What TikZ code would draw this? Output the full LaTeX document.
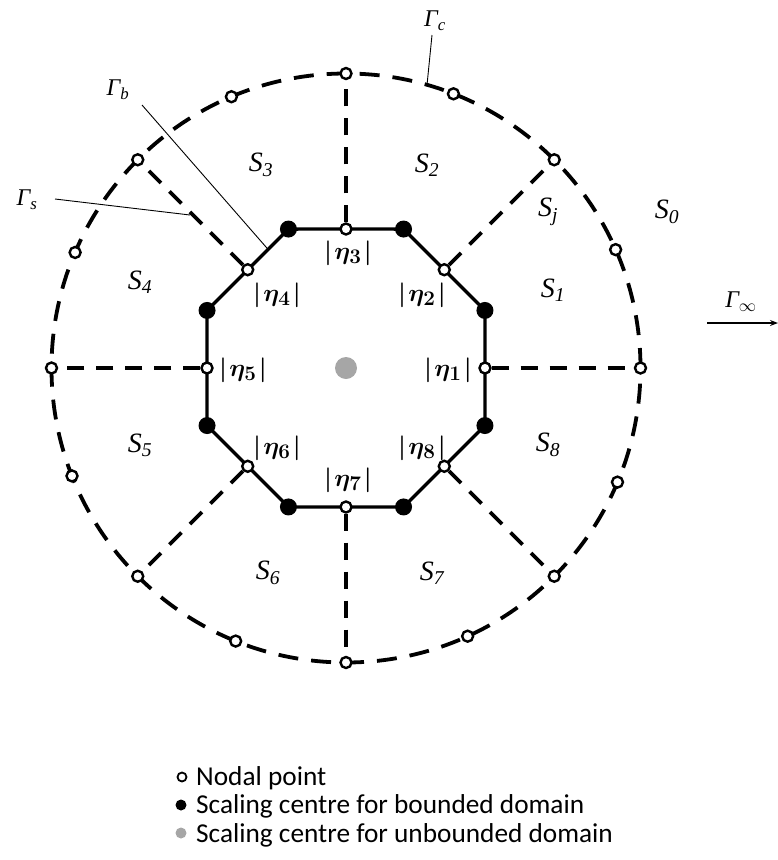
\documentclass[tikz,border=0pt]{standalone}
\usepackage{fontspec}
\setmainfont{Liberation Serif}
\newfontfamily\legendfont{Carlito}
\usetikzlibrary{arrows.meta,calc,backgrounds}
\definecolor{ugray}{HTML}{A6A6A6}
\newcommand{\etalab}[1]{$|\mkern1.5mu\eta_{#1}\mkern1.5mu|$}
\begin{document}
\begin{tikzpicture}[x=1pt,y=-1pt,
  nodal/.style={circle,draw=black,fill=white,line width=2.4pt,inner sep=0pt,minimum size=11pt},
  bcentre/.style={circle,fill=black,inner sep=0pt,minimum size=17pt},
  ucentre/.style={circle,fill=ugray,inner sep=0pt,minimum size=22pt},
  slabel/.style={font=\fontsize{28}{30}\selectfont\itshape,inner sep=0pt},
  glabel/.style={font=\fontsize{24}{26}\selectfont\itshape,inner sep=0pt},
  etalabel/.style={font=\fontsize{30}{32}\selectfont\boldmath,inner sep=0pt},
  outerdash/.style={line width=3.8pt,dash pattern=on 20pt off 13pt},
  raddash/.style={line width=3.8pt,dash pattern=on 17pt off 12pt},
  octo/.style={line width=3.4pt,line join=round},
  leader/.style={line width=0.9pt},
  legtext/.style={font=\legendfont\fontsize{27.3}{29}\selectfont,inner sep=0pt,anchor=base west}
]
\useasboundingbox (0,0) rectangle (778,860);

% centre
\node[ucentre] (c) at (346,368) {};

% inner nodal points and scaling centres
\foreach \i in {1,...,8}{
  \pgfmathsetmacro{\a}{(\i-1)*45}
  \pgfmathsetmacro{\b}{22.5+(\i-1)*45}
  \node[nodal] (n\i) at ($(c.center)+(-\a:139)$) {};
  \node[bcentre] (b\i) at ($(c.center)+(-\b:150.4)$) {};
  \node[nodal] (o\i) at ($(c.center)+(-\a:294.5)$) {};
}
% extra nodal points on the outer circle
\foreach \i/\a in {1/23.7,2/68.6,3/112.9,4/156.9,5/201.5,6/248,7/294.4,8/337.2}{
  \node[nodal] (e\i) at ($(c.center)+(-\a:294.5)$) {};
}

\begin{scope}[on background layer]
  \draw[outerdash] (c.center) circle[radius=294.5pt];
  \foreach \i in {1,...,8}{\draw[raddash] (n\i) -- (o\i);}
  \draw[octo] (n1.center) -- (b1.center) -- (n2.center) -- (b2.center) -- (n3.center) -- (b3.center)
    -- (n4.center) -- (b4.center) -- (n5.center) -- (b5.center) -- (n6.center) -- (b6.center)
    -- (n7.center) -- (b7.center) -- (n8.center) -- (b8.center) -- cycle;
\end{scope}

% eta labels
\node[etalabel] (l1) at (448,370) {\etalab{1}};
\node[etalabel] (l2) at (422,295) {\etalab{2}};
\node[etalabel] (l3) at (348,253) {\etalab{3}};
\node[etalabel] (l4) at (277,295) {\etalab{4}};
\node[etalabel] (l5) at (243,370) {\etalab{5}};
\node[etalabel] (l6) at (277,448) {\etalab{6}};
\node[etalabel] (l7) at (348,480) {\etalab{7}};
\node[etalabel] (l8) at (422,448) {\etalab{8}};

% subdomain labels
\node[slabel] (s0) at (667,212) {S\textsubscript{0}};
\node[slabel] (s1) at (553,290) {S\textsubscript{1}};
\node[slabel] (s2) at (427,165) {S\textsubscript{2}};
\node[slabel] (s3) at (261,165) {S\textsubscript{3}};
\node[slabel] (s4) at (140,282) {S\textsubscript{4}};
\node[slabel] (s5) at (140,445) {S\textsubscript{5}};
\node[slabel] (s6) at (268,573) {S\textsubscript{6}};
\node[slabel] (s7) at (432,573) {S\textsubscript{7}};
\node[slabel] (s8) at (548,445) {S\textsubscript{8}};
\node[slabel] (sj) at (548,212) {S\textsubscript{j}};

% boundary labels with leader lines
\node[glabel] (gc) at (435,21) {Γ\textsubscript{c}};
\node[glabel] (gb) at (118,90) {Γ\textsubscript{b}};
\node[glabel] (gs) at (27,200) {Γ\textsubscript{s}};
\node[glabel] (ginf) at (741,302) {Γ\textsubscript{$\infty$}};

\coordinate (gcs) at (432,35);
\coordinate (gce) at (427,85);
\coordinate (gbs) at (142,105);
\coordinate (gbe) at ($(b3.center)!0.5!(n4.center)$);
\coordinate (gss) at (55,199);
\coordinate (gse) at (190,215);
\coordinate (ginfs) at (707,323);
\coordinate (ginfe) at (778,323);
\draw[leader] (gcs) -- (gce);
\draw[leader] (gbs) -- (gbe);
\draw[leader] (gss) -- (gse);
\draw[line width=1.3pt,-{Stealth[length=8pt,width=6pt]}] (ginfs) -- (ginfe);

% legend
\node[nodal,minimum size=9pt,line width=1.8pt] (k1) at (182,777) {};
\node[circle,fill=black,inner sep=0pt,minimum size=11pt] (k2) at (181,805) {};
\node[circle,fill=ugray,inner sep=0pt,minimum size=11pt] (k3) at (181,833) {};
\node[legtext] (t1) at (196,785) {Nodal point};
\node[legtext] (t2) at (196,813) {Scaling centre for bounded domain};
\node[legtext] (t3) at (196,842) {Scaling centre for unbounded domain};
\end{tikzpicture}
\end{document}
